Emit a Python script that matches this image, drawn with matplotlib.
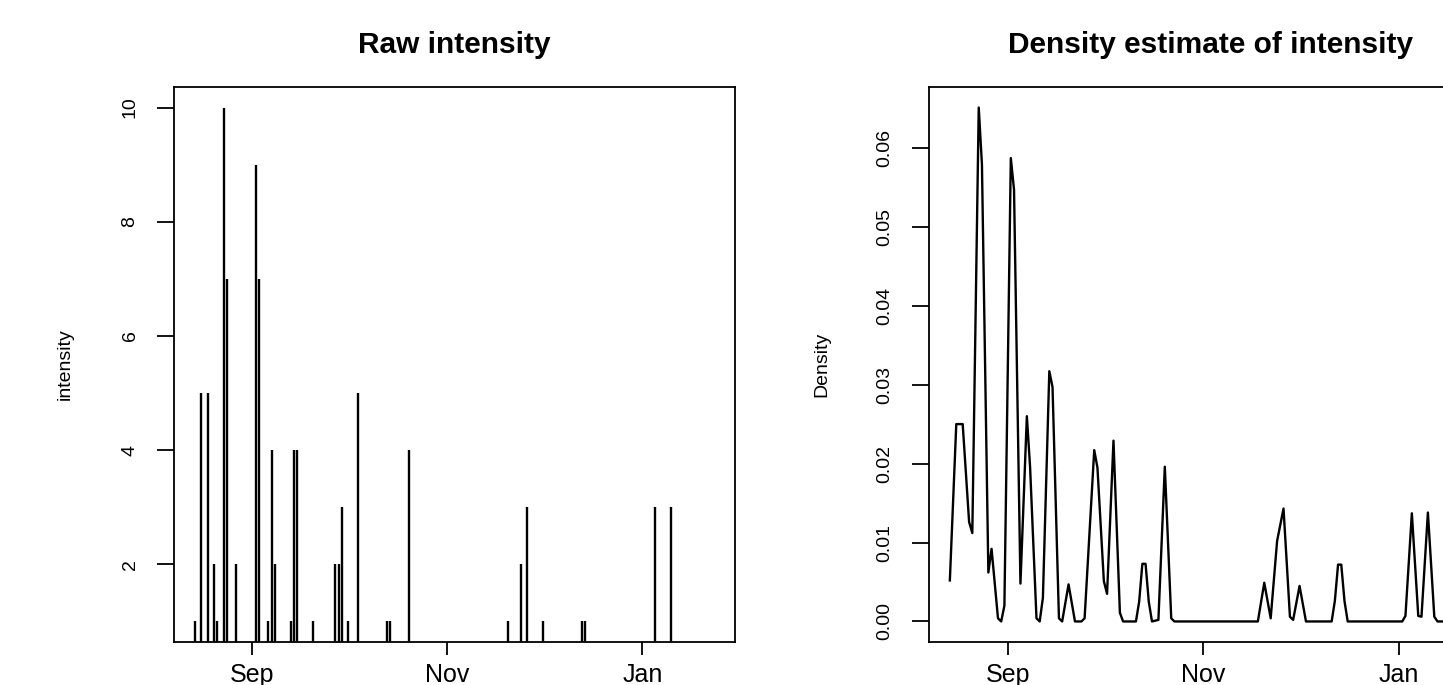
import matplotlib
matplotlib.use("Agg")
import matplotlib.pyplot as plt
import pandas as pd

plt.rcParams['font.family'] = ['Liberation Sans', 'DejaVu Sans']

# raw intensity (one vertical line per day)
raw_dates = ['2012-08-14', '2012-08-16', '2012-08-18', '2012-08-20', '2012-08-21',
             '2012-08-23', '2012-08-24', '2012-08-27', '2012-09-02', '2012-09-03',
             '2012-09-06', '2012-09-07', '2012-09-08', '2012-09-13', '2012-09-14',
             '2012-09-15', '2012-09-20', '2012-09-27', '2012-09-28', '2012-09-29',
             '2012-10-01', '2012-10-04', '2012-10-13', '2012-10-14', '2012-10-20',
             '2012-11-20', '2012-11-24', '2012-11-26', '2012-12-01', '2012-12-13',
             '2012-12-14', '2013-01-05', '2013-01-10']
raw_intensity = [1, 5, 5, 2, 1,
                 10, 7, 2, 9, 7,
                 1, 4, 2, 1, 4,
                 4, 1, 2, 2, 3,
                 1, 5, 1, 1, 4,
                 1, 2, 3, 1, 1,
                 1, 3, 3]

# density estimate of intensity
dens_dates = ['2012-08-14', '2012-08-16', '2012-08-18', '2012-08-20', '2012-08-21',
              '2012-08-23', '2012-08-24', '2012-08-26', '2012-08-27', '2012-08-29',
              '2012-08-30', '2012-08-31', '2012-09-02', '2012-09-03', '2012-09-05',
              '2012-09-07', '2012-09-08', '2012-09-10', '2012-09-11', '2012-09-12',
              '2012-09-14', '2012-09-15', '2012-09-17', '2012-09-18', '2012-09-20',
              '2012-09-22', '2012-09-24', '2012-09-25', '2012-09-28', '2012-09-29',
              '2012-10-01', '2012-10-02', '2012-10-04', '2012-10-06', '2012-10-07',
              '2012-10-11', '2012-10-12', '2012-10-13', '2012-10-14', '2012-10-15',
              '2012-10-16', '2012-10-18', '2012-10-20', '2012-10-22', '2012-10-23',
              '2012-11-18', '2012-11-20', '2012-11-22', '2012-11-24', '2012-11-26',
              '2012-11-28', '2012-11-29', '2012-12-01', '2012-12-03', '2012-12-11',
              '2012-12-12', '2012-12-13', '2012-12-14', '2012-12-15', '2012-12-16',
              '2013-01-02', '2013-01-03', '2013-01-05', '2013-01-07', '2013-01-08',
              '2013-01-10', '2013-01-12', '2013-01-13', '2013-01-23']
dens_values = [0.0052, 0.0250, 0.0250, 0.0126, 0.0112,
               0.0651, 0.0579, 0.0062, 0.0092, 0.0004,
               0.0000, 0.0020, 0.0587, 0.0547, 0.0048,
               0.0260, 0.0196, 0.0004, 0.0000, 0.0030,
               0.0317, 0.0297, 0.0004, 0.0000, 0.0047,
               0.0000, 0.0000, 0.0004, 0.0217, 0.0195,
               0.0051, 0.0035, 0.0229, 0.0011, 0.0000,
               0.0000, 0.0025, 0.0073, 0.0073, 0.0025,
               0.0000, 0.0002, 0.0196, 0.0004, 0.0000,
               0.0000, 0.0049, 0.0004, 0.0102, 0.0143,
               0.0006, 0.0002, 0.0045, 0.0000, 0.0000,
               0.0026, 0.0072, 0.0072, 0.0026, 0.0000,
               0.0000, 0.0007, 0.0137, 0.0007, 0.0006,
               0.0138, 0.0006, 0.0000, 0.0000]

month_ticks = ['2012-09-01', '2012-11-01', '2013-01-01']
month_labels = ['Sep', 'Nov', 'Jan']

raw_x = pd.to_datetime(raw_dates)
dens_x = pd.to_datetime(dens_dates)
tick_x = pd.to_datetime(month_ticks)
xlim = (pd.Timestamp('2012-08-07 12:00'), pd.Timestamp('2013-01-30'))

fig = plt.figure(figsize=(14.43, 6.85), dpi=100)
ax1 = fig.add_axes([0.1206, 0.0628, 0.3888, 0.8102])
ax2 = fig.add_axes([0.6438, 0.0628, 0.3902, 0.8102])  # runs off the right edge, like the original


def style(ax):
    for s in ax.spines.values():
        s.set_linewidth(1.3)
    ax.set_xlim(xlim)
    ax.set_xticks(tick_x)
    ax.set_xticklabels(month_labels)
    ax.tick_params(axis='x', direction='out', length=9, width=1.3, pad=6, labelsize=18)
    ax.tick_params(axis='y', direction='out', length=12, width=1.3, pad=13.5, labelsize=14,
                   labelrotation=90)
    for lab in ax.get_yticklabels():
        lab.set_va('center')
    ax.yaxis.label.set_va('center')


ax1.vlines(raw_x, 0, raw_intensity, color='black', linewidth=1.7)
ax1.set_ylim(0.64, 10.36)
ax1.set_yticks([2, 4, 6, 8, 10])
ax1.set_ylabel('intensity', fontsize=14)
style(ax1)
ax1.yaxis.set_label_coords(-0.193, 0.5)
ax1.set_title('Raw intensity', fontsize=21.5, fontweight='bold', y=1.0757, va='center', pad=0)

ax2.plot(dens_x, dens_values, color='black', linewidth=1.7)
ax2.set_ylim(-0.0026, 0.0677)
ax2.set_yticks([0.00, 0.01, 0.02, 0.03, 0.04, 0.05, 0.06])
ax2.set_yticklabels(['%.2f' % v for v in [0.00, 0.01, 0.02, 0.03, 0.04, 0.05, 0.06]])
ax2.set_ylabel('Density', fontsize=14)
style(ax2)
ax2.yaxis.set_label_coords(-0.190, 0.5)
ax2.set_title('Density estimate of intensity', fontsize=21.5, fontweight='bold',
              y=1.0757, va='center', pad=0)

fig.savefig('out.png', dpi=100)
